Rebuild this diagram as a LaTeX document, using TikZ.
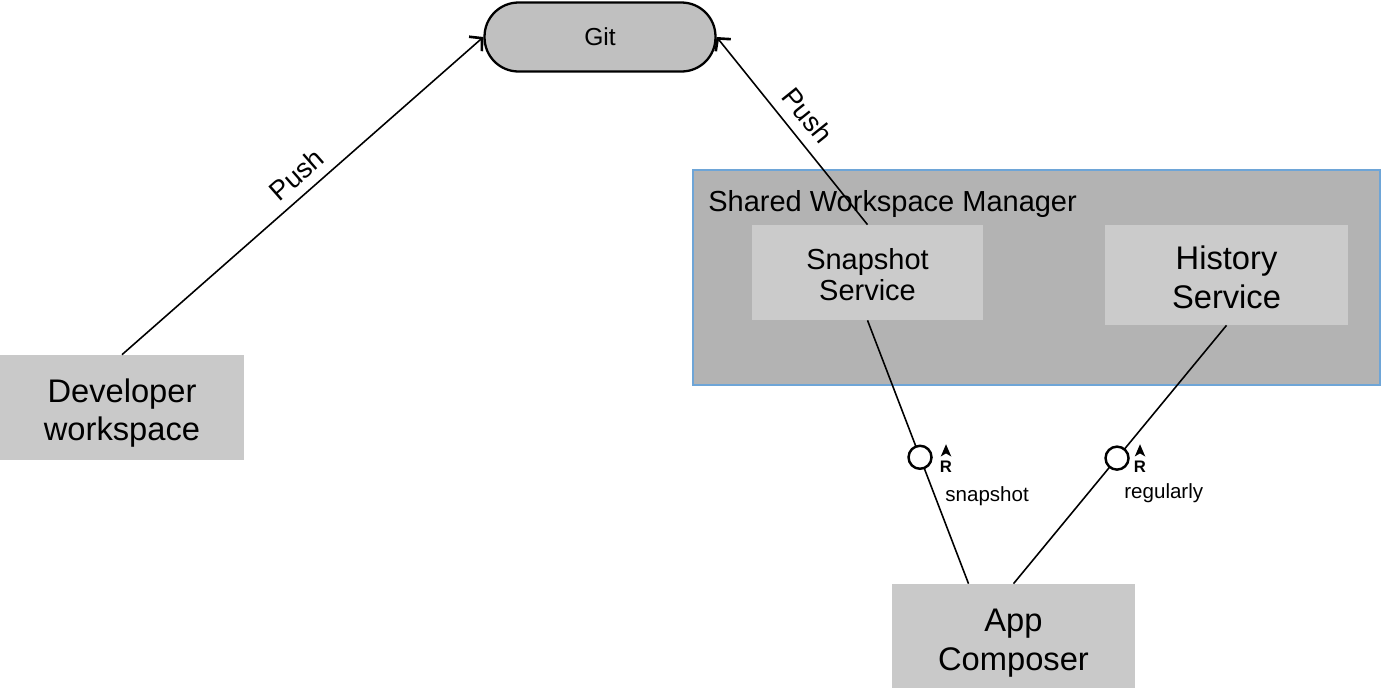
\documentclass[tikz,border=0pt]{standalone}
\usepackage{fontspec}
\setmainfont{Liberation Sans}
\usetikzlibrary{arrows.meta,positioning}
\definecolor{boxgray}{RGB}{201,201,201}
\definecolor{gitgray}{RGB}{192,192,192}
\definecolor{mgrgray}{RGB}{179,179,179}
\definecolor{mgrblue}{RGB}{110,165,215}
\definecolor{svcgray}{RGB}{203,203,203}

\begin{document}
\begin{tikzpicture}[x=0.02cm, y=-0.02cm,
  main/.style = {fill=boxgray, minimum width=4.86cm, minimum height=2.08cm, align=center, text height=39pt, text depth=0pt, font=\fontsize{18.6}{22}\selectfont},
  svc/.style = {fill=svcgray, align=center, text depth=0pt},
  link/.style = {line width=0.9pt},
  push/.style = {link, -{Straight Barb[length=5pt,width=11pt,line width=1.5pt]}},
  iface/.style = {circle, draw, line width=1.4pt, fill=white, minimum size=0.46cm, inner sep=0pt},
  rmark/.style = {font=\bfseries\fontsize{9.5}{9.5}\selectfont, inner sep=1pt},
  small/.style = {font=\fontsize{11.7}{14}\selectfont, inner sep=0pt}]
\useasboundingbox (0,0) rectangle (1381,691);

\node[draw, line width=1.3pt, fill=gitgray, rounded corners=0.68cm, minimum width=4.62cm, minimum height=1.38cm, font=\fontsize{14}{16}\selectfont] (git) at (600,37) {Git};
\node[main, minimum width=4.88cm, minimum height=2.1cm, text height=38pt] (dev) at (122,407.5) {Developer\\workspace};

\node[draw=mgrblue, line width=0.8pt, fill=mgrgray, minimum width=13.74cm, minimum height=4.3cm] (swm) at (1036.5,277.5) {};
\node[anchor=west, inner sep=0pt, font=\fontsize{16.5}{19}\selectfont] (swmlabel) at (708,204) {Shared Workspace Manager};
\node[svc, minimum width=4.62cm, minimum height=1.9cm, text height=32.4pt, font=\fontsize{16.5}{18.1}\selectfont] (snap) at (867.5,272.5) {Snapshot\\Service};
\node[svc, minimum width=4.86cm, minimum height=2cm, text height=37.9pt, font=\fontsize{18.6}{22}\selectfont] (hist) at (1226.5,275) {History\\Service};

\node[main] (app) at (1013.5,636) {App\\Composer};

\draw[push] (dev.north) -- node[sloped, above=2pt, pos=0.52, font=\fontsize{15.5}{18}\selectfont] {Push} (git.west);
\draw[push] (snap.north) -- node[sloped, above=3pt, pos=0.51, font=\fontsize{15.5}{18}\selectfont] {Push} (git.east);

\draw[link] (snap.south) -- node[iface, pos=0.52] (i1) {} ([xshift=-0.9cm]app.north);
\draw[link] (hist.south) -- node[iface, pos=0.514] (i2) {} (app.north);

\node[rmark] (r1) at (946,467) {R};
\node[rmark] (r2) at (1140,467) {R};
\fill (r1.north) ++(0,8.5pt) -- ++(-3pt,-7pt) -- ++(3pt,1.8pt) -- ++(3pt,-1.8pt) -- cycle;
\fill (r2.north) ++(0,8.5pt) -- ++(-3pt,-7pt) -- ++(3pt,1.8pt) -- ++(3pt,-1.8pt) -- cycle;

\node[small, anchor=west] (l1) at (945,496) {snapshot};
\node[small, anchor=west] (l2) at (1124,493) {regularly};

\end{tikzpicture}
\end{document}
